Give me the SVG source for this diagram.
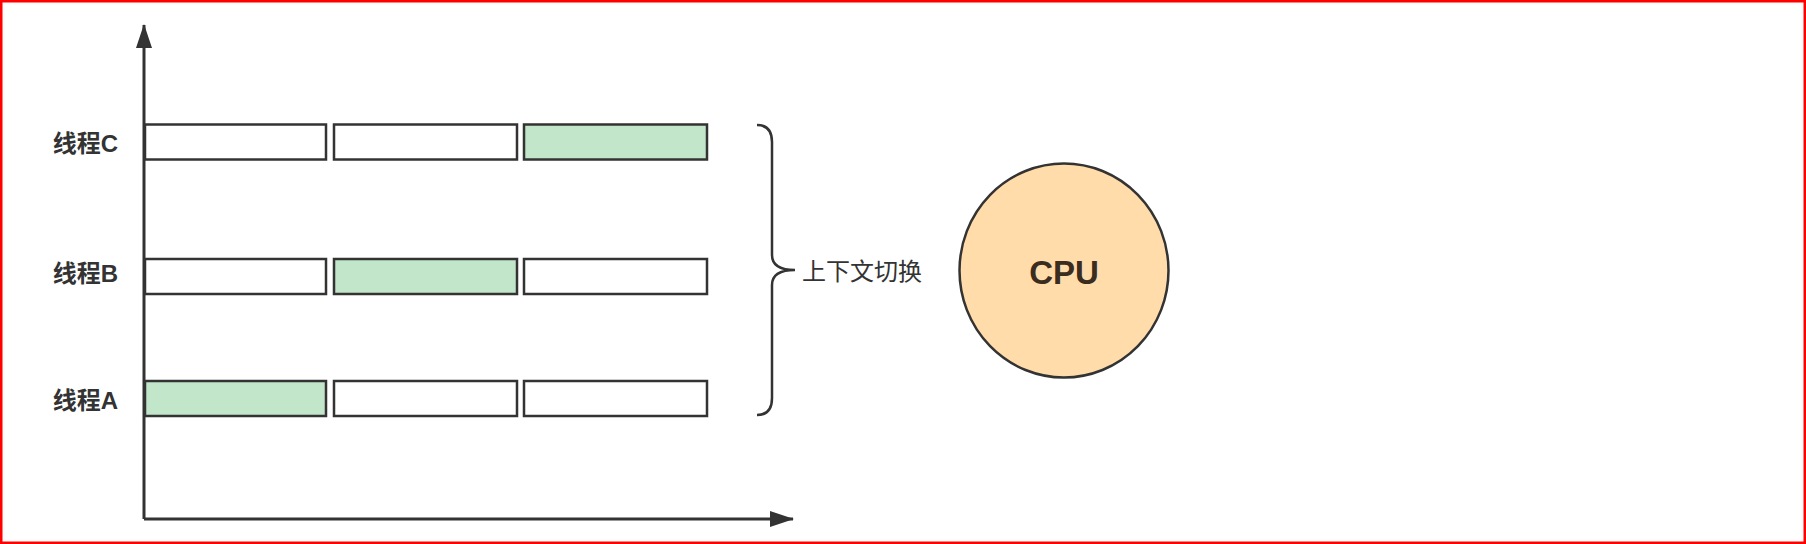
<svg xmlns="http://www.w3.org/2000/svg" width="1806" height="544" viewBox="0 0 1806 544">
<style>
.slot{fill:#ffffff;stroke:#333333;stroke-width:2.5}
.run{fill:#c2e6c9;stroke:#333333;stroke-width:2.5}
.lbl{font-family:"Liberation Sans","Noto Sans CJK SC",sans-serif;font-size:24px;font-weight:bold;fill:#333333}
.axis{stroke:#333333;stroke-width:3;fill:none}
</style>
<defs>
<marker id="arr" viewBox="0 0 24 16" refX="23" refY="8" markerWidth="24" markerHeight="16" markerUnits="userSpaceOnUse" orient="auto">
<path d="M0,0 L24,8 L0,16 Z" fill="#333333"/>
</marker>
</defs>
<rect x="1.25" y="1.25" width="1803.5" height="541.5" fill="#ffffff" stroke="#ff0000" stroke-width="2.5"/>
<g id="connectors">
<line class="axis" x1="144" y1="519" x2="144" y2="25" marker-end="url(#arr)"/>
<line class="axis" x1="144" y1="519" x2="793" y2="519" marker-end="url(#arr)"/>
<path d="M757,125 Q772,125 772,142 L772,255 Q772,270 795,270 Q772,270 772,285 L772,398 Q772,415 757,415" fill="none" stroke="#333333" stroke-width="2.5"/>
</g>
<g id="threadC">
<text class="lbl" x="118" y="152" text-anchor="end">线程C</text>
<rect class="slot" x="145" y="124.5" width="181" height="35"/>
<rect class="slot" x="334" y="124.5" width="183" height="35"/>
<rect class="run" x="524" y="124.5" width="183" height="35"/>
</g>
<g id="threadB">
<text class="lbl" x="118" y="282" text-anchor="end">线程B</text>
<rect class="slot" x="145" y="259" width="181" height="35"/>
<rect class="run" x="334" y="259" width="183" height="35"/>
<rect class="slot" x="524" y="259" width="183" height="35"/>
</g>
<g id="threadA">
<text class="lbl" x="118" y="409" text-anchor="end">线程A</text>
<rect class="run" x="145" y="381" width="181" height="35"/>
<rect class="slot" x="334" y="381" width="183" height="35"/>
<rect class="slot" x="524" y="381" width="183" height="35"/>
</g>
<g id="switch">
<text x="802" y="280" font-family="Liberation Sans,'Noto Sans CJK SC',sans-serif" font-size="24" fill="#333333">上下文切换</text>
</g>
<g id="cpu">
<ellipse cx="1064" cy="270.5" rx="104.5" ry="107" fill="#ffdcaa" stroke="#333333" stroke-width="2.5"/>
<text x="1064" y="284" text-anchor="middle" font-family="Liberation Sans,sans-serif" font-size="33" font-weight="bold" fill="#3a2c1e">CPU</text>
</g>
</svg>
